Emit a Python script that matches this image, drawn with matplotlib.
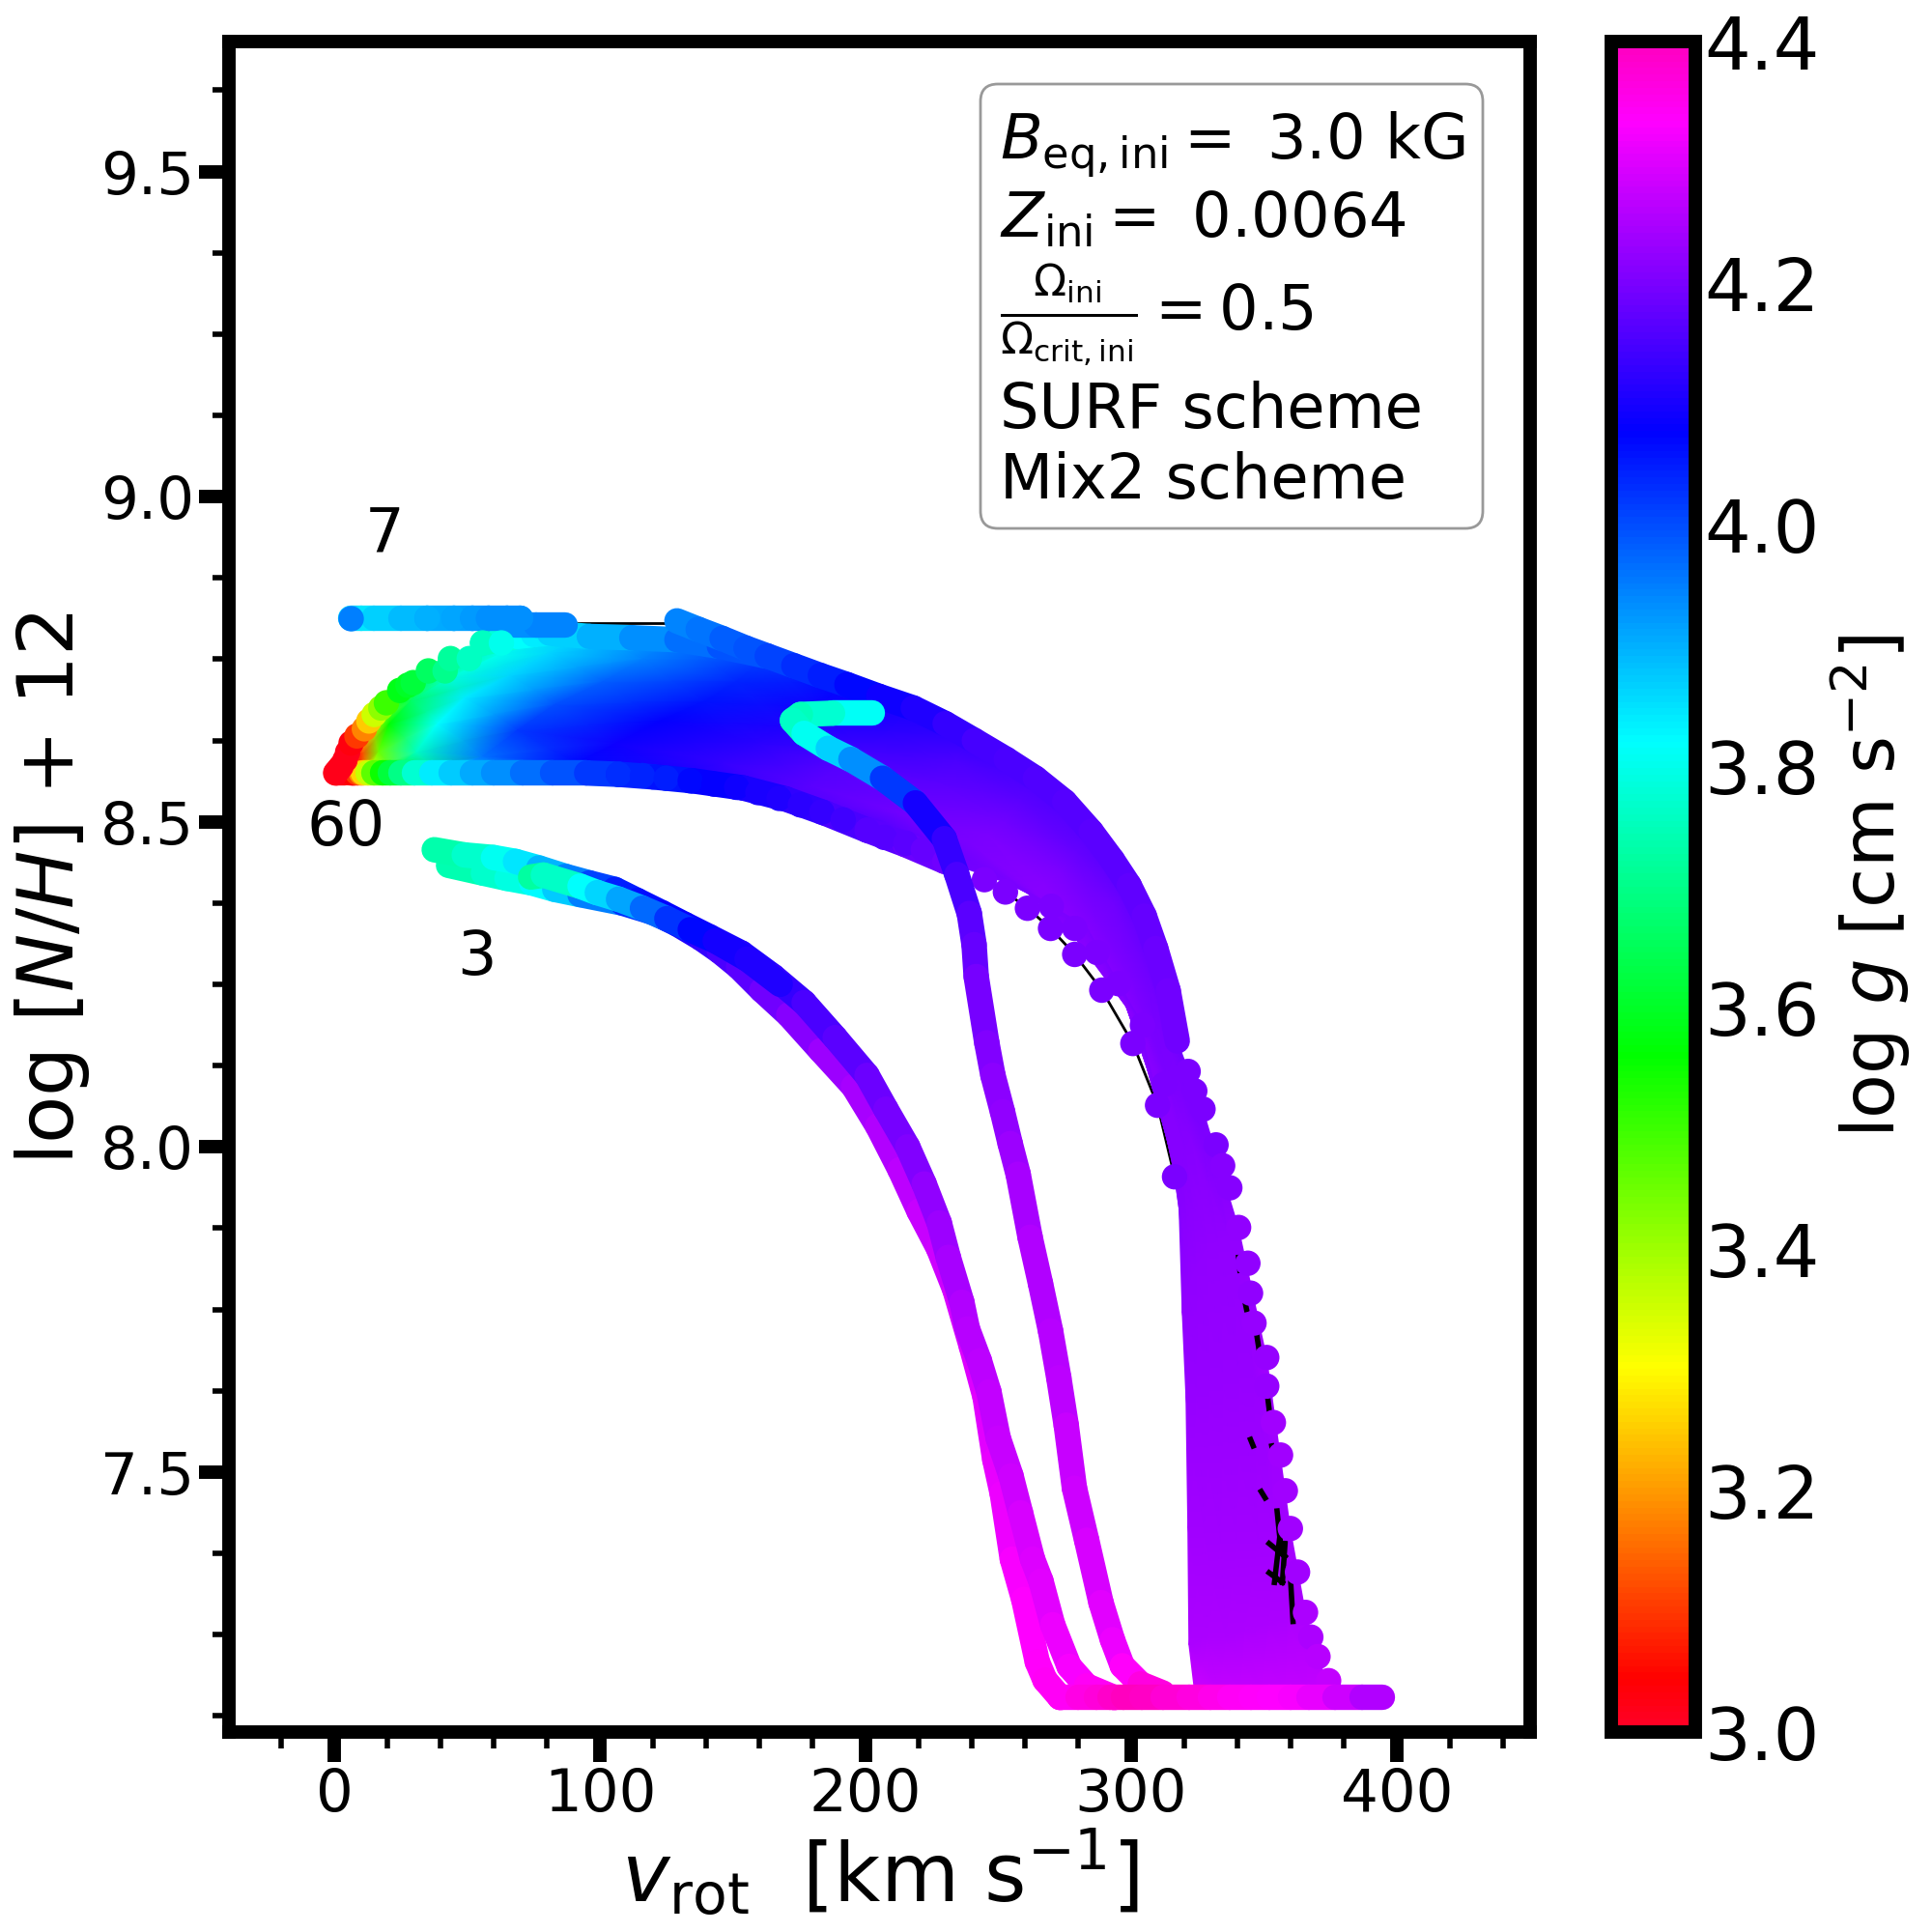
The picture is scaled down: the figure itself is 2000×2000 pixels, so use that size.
import numpy as np
import matplotlib
matplotlib.use("Agg")
import matplotlib.pyplot as plt
from matplotlib.collections import LineCollection
from matplotlib.colors import Normalize
from matplotlib.cm import ScalarMappable
from matplotlib.patches import FancyBboxPatch
from matplotlib.ticker import MultipleLocator

# Fan of the 7-60 Msun tracks, one row per track, columns run along the track
FAN_V = [
    [55.8, 68.9, 81, 96, 129, 162.5, 192.6, 217.8, 241, 264, 285, 299.3, 309.3, 317.4, 327.1, 340.5, 351.1, 360, 365.7, 374.4],
    [34.7, 48.8, 60.9, 81, 116.2, 151.4, 181.6, 208.7, 233.9, 258, 279.2, 293.2, 305.3, 315.9, 325.4, 336.5, 345.6, 353.6, 358.6, 365.7],
    [24.6, 30.7, 42.8, 65.9, 101.1, 139.3, 171.5, 199.7, 227.9, 252, 273.1, 287.2, 300.3, 313.4, 322.4, 332.5, 340.5, 347.6, 351.6, 357.6],
    [15.1, 19.6, 28.7, 48.8, 83, 123.2, 159.5, 189.6, 219.8, 246, 267.1, 282.2, 296.3, 312.4, 320.4, 328.5, 334.5, 339.5, 342.5, 348.6],
    [9.6, 13.6, 20.6, 38.7, 68.9, 106.1, 146.4, 179.6, 211.8, 239.9, 263.1, 280.2, 298.3, 312.4, 319.4, 324.4, 329.5, 333.5, 335.5, 340.5],
    [4.5, 10.6, 16.6, 30.7, 55.8, 91, 131.3, 166.5, 206.7, 234.9, 261.1, 282.2, 300.3, 313.4, 318.4, 321.4, 324.4, 327.5, 328.5, 332.5],
    [0.5, 8.5, 12.6, 20.6, 36.7, 70.9, 107.1, 154.4, 200.7, 229.9, 259, 283.2, 302.3, 315.4, 318.1, 319.3, 320.7, 321.4, 321.8, 324],
]
FAN_N = [
    [8.775, 8.785, 8.79, 8.785, 8.78, 8.755, 8.712, 8.675, 8.625, 8.567, 8.485, 8.402, 8.305, 8.163, 8.057, 7.875, 7.675, 7.412, 7.283, 7.165],
    [8.732, 8.745, 8.755, 8.76, 8.75, 8.715, 8.675, 8.64, 8.595, 8.535, 8.455, 8.375, 8.275, 8.135, 8.035, 7.865, 7.665, 7.405, 7.275, 7.165],
    [8.702, 8.71, 8.72, 8.725, 8.715, 8.685, 8.645, 8.61, 8.56, 8.5, 8.425, 8.345, 8.255, 8.105, 8.015, 7.855, 7.655, 7.395, 7.265, 7.165],
    [8.665, 8.677, 8.685, 8.69, 8.68, 8.655, 8.62, 8.585, 8.535, 8.48, 8.405, 8.325, 8.235, 8.085, 7.995, 7.845, 7.645, 7.395, 7.255, 7.165],
    [8.635, 8.645, 8.65, 8.65, 8.64, 8.62, 8.59, 8.555, 8.515, 8.465, 8.395, 8.315, 8.215, 8.045, 7.965, 7.815, 7.635, 7.395, 7.245, 7.165],
    [8.6, 8.605, 8.607, 8.607, 8.6, 8.59, 8.575, 8.54, 8.5, 8.455, 8.39, 8.315, 8.205, 8.015, 7.935, 7.785, 7.625, 7.405, 7.245, 7.165],
    [8.576, 8.575, 8.575, 8.575, 8.575, 8.575, 8.573, 8.552, 8.487, 8.439, 8.398, 8.338, 8.202, 7.982, 7.905, 7.745, 7.615, 7.415, 7.235, 7.16],
]
FAN_G = [
    [3.74, 3.8, 3.85, 3.88, 3.95, 4.01, 4.07, 4.1, 4.13, 4.15, 4.16, 4.17, 4.18, 4.19, 4.2, 4.22, 4.24, 4.24, 4.25, 4.27],
    [3.68, 3.74, 3.8, 3.86, 3.95, 4.04, 4.09, 4.12, 4.15, 4.17, 4.18, 4.19, 4.19, 4.2, 4.2, 4.22, 4.23, 4.24, 4.25, 4.27],
    [3.6, 3.65, 3.78, 3.86, 3.98, 4.06, 4.11, 4.14, 4.17, 4.19, 4.2, 4.2, 4.2, 4.2, 4.21, 4.22, 4.23, 4.24, 4.25, 4.27],
    [3.33, 3.5, 3.66, 3.84, 4.0, 4.08, 4.12, 4.16, 4.18, 4.2, 4.21, 4.21, 4.21, 4.21, 4.21, 4.22, 4.23, 4.24, 4.25, 4.27],
    [3.2, 3.32, 3.56, 3.82, 4.02, 4.09, 4.13, 4.17, 4.19, 4.2, 4.21, 4.21, 4.21, 4.21, 4.21, 4.22, 4.23, 4.24, 4.25, 4.27],
    [3.03, 3.12, 3.45, 3.76, 3.96, 4.07, 4.1, 4.15, 4.17, 4.19, 4.2, 4.21, 4.21, 4.21, 4.21, 4.22, 4.23, 4.24, 4.25, 4.27],
    [3.02, 3.05, 3.3, 3.55, 3.82, 3.95, 4.03, 4.09, 4.16, 4.19, 4.2, 4.2, 4.2, 4.21, 4.21, 4.22, 4.23, 4.24, 4.25, 4.28],
]

# Upper and lower rims of the fan
RIM_UP_V = [55.8, 62, 68.9, 75, 81, 96, 112, 129, 145, 162.5]
RIM_UP_N = [8.775, 8.78, 8.785, 8.788, 8.79, 8.785, 8.783, 8.78, 8.77, 8.755]
RIM_UP_G = [3.74, 3.77, 3.8, 3.83, 3.85, 3.88, 3.92, 3.95, 3.98, 4.01]
RIM_LOW_V = [0.5, 4, 7, 8.5, 10, 11, 12.6, 15, 18, 21, 25, 30, 36.7, 44, 52, 60, 71, 82, 95, 107, 120, 135, 154, 170, 185, 200.7, 215, 229.9]
RIM_LOW_N = [8.576, 8.576, 8.575, 8.575, 8.575, 8.575, 8.575, 8.575, 8.575, 8.575, 8.575, 8.575, 8.575, 8.575, 8.575, 8.575, 8.575, 8.575, 8.575, 8.573, 8.569, 8.563, 8.552, 8.535, 8.513, 8.487, 8.465, 8.439]
RIM_LOW_G = [3.02, 3.02, 3.03, 3.06, 3.15, 3.22, 3.3, 3.42, 3.52, 3.58, 3.66, 3.73, 3.82, 3.86, 3.89, 3.92, 3.95, 3.98, 4.01, 4.03, 4.05, 4.07, 4.09, 4.11, 4.14, 4.16, 4.18, 4.19]

# Track that leaves the fan at the top right
TOP_V = [129, 137, 146, 155, 163, 173, 183, 193, 205, 218, 230, 241, 253, 264, 275, 285, 293, 299.3, 305, 309.3, 314, 317.4]
TOP_N = [8.809, 8.796, 8.782, 8.767, 8.755, 8.74, 8.725, 8.711, 8.693, 8.675, 8.651, 8.625, 8.596, 8.567, 8.531, 8.485, 8.441, 8.402, 8.355, 8.305, 8.24, 8.163]
TOP_G = [3.94, 3.95, 3.97, 3.99, 4.0, 4.02, 4.04, 4.06, 4.08, 4.1, 4.12, 4.14, 4.15, 4.15, 4.16, 4.16, 4.17, 4.17, 4.18, 4.18, 4.19, 4.19]

# 7 Msun flat part and its short neighbour
FLAT_V = [6.3, 10, 15, 25, 35, 45, 52, 58, 65, 70]
FLAT_N = [8.813, 8.813, 8.813, 8.813, 8.813, 8.813, 8.813, 8.813, 8.813, 8.813]
FLAT_G = [3.88, 3.84, 3.85, 3.88, 3.9, 3.91, 3.92, 3.93, 3.93, 3.93]
FLAT2_V = [68, 76, 87]
FLAT2_N = [8.803, 8.803, 8.803]
FLAT2_G = [3.92, 3.94, 3.95]

# Ends of the fan tracks
END_V = [0.5, 1.5, 2.5, 4, 5, 6.3, 8.5, 11.3, 13, 15, 17.5, 19.6, 24.6, 27.7, 29.7, 35.4, 41.7, 43.7, 50.8, 55.8, 62.9]
END_N = [8.575, 8.58, 8.585, 8.595, 8.607, 8.621, 8.632, 8.643, 8.655, 8.665, 8.675, 8.683, 8.702, 8.71, 8.714, 8.732, 8.732, 8.751, 8.751, 8.775, 8.775]
END_G = [3.02, 3.02, 3.02, 3.02, 3.02, 3.03, 3.1, 3.18, 3.25, 3.35, 3.42, 3.5, 3.58, 3.6, 3.62, 3.66, 3.7, 3.72, 3.76, 3.76, 3.8]

# Circles along the lower edge of the fan
LOW_V = [107, 116, 125, 134, 143, 151.5, 159.5, 167.5, 175.5, 183.6, 191.6, 200.7, 207.1, 215.2, 221.8, 229.9]
LOW_N = [8.573, 8.571, 8.567, 8.563, 8.558, 8.553, 8.545, 8.536, 8.526, 8.515, 8.503, 8.487, 8.476, 8.467, 8.457, 8.439]
LOW_G = [4.03, 4.04, 4.05, 4.07, 4.08, 4.09, 4.1, 4.11, 4.12, 4.13, 4.14, 4.16, 4.16, 4.17, 4.18, 4.19]

# Sparse parts of the two tracks that show their black line
SPARSE_A_V = [244.8, 252.7, 261, 269.7, 278.8, 289, 300.7, 310, 316.4]
SPARSE_A_N = [8.411, 8.392, 8.367, 8.336, 8.296, 8.241, 8.159, 8.064, 7.954]
SPARSE_B_V = [270, 278.8, 287.2, 295.3, 304.3, 312.4]
SPARSE_B_N = [8.37, 8.336, 8.299, 8.251, 8.187, 8.096]
SPARSE_G = 4.2

# Circles on the right edge of the bundle
EDGE_V = [321.5, 324, 327.1, 332, 334.5, 337.2, 340.5, 344, 345, 346.3, 351.1, 351.1, 353.6, 356.3, 358.1, 360, 362.7, 365.7, 367.7, 370.4, 374.4]
EDGE_N = [8.116, 8.086, 8.058, 8.003, 7.971, 7.937, 7.876, 7.821, 7.775, 7.729, 7.676, 7.632, 7.576, 7.526, 7.471, 7.413, 7.346, 7.284, 7.246, 7.216, 7.179]
EDGE_G = [4.2, 4.2, 4.2, 4.2, 4.21, 4.21, 4.22, 4.22, 4.22, 4.23, 4.23, 4.23, 4.24, 4.24, 4.24, 4.24, 4.24, 4.25, 4.25, 4.26, 4.27]

# Bits of black line showing between those circles, nan breaks the line
BITS_V = [340.5, 341, np.nan, 342.5, 343.5, np.nan, 347, 348.5, np.nan, 351, 352.5, np.nan, 345, 346, np.nan, 353, 354, np.nan,
          349, 350.5, np.nan, 355, 356.5, np.nan, 352, 358, np.nan, 354, 356, np.nan, 357, 358, np.nan, 360, 361, np.nan, 352, 357]
BITS_N = [7.83, 7.81, np.nan, 7.77, 7.75, np.nan, 7.72, 7.68, np.nan, 7.63, 7.58, np.nan, 7.55, 7.54, np.nan, 7.54, 7.52, np.nan,
          7.47, 7.46, np.nan, 7.44, 7.38, np.nan, 7.39, 7.37, np.nan, 7.33, 7.40, np.nan, 7.33, 7.39, np.nan, 7.34, 7.27, np.nan, 7.345, 7.33]

# Middle band with the hook
MID_V = [202.7, 187.6, 175.5, 172.5, 176.9, 186, 194.5, 206.4, 218.8, 229.7, 234.4, 239.1, 240.9, 241.7, 245.7, 248, 251.6, 254.5, 257.5, 262, 265.9, 269.7, 272.8, 275.6, 278.7, 283.3, 288.7, 293, 296.7, 303.5, 312]
MID_N = [8.667, 8.667, 8.665, 8.656, 8.636, 8.613, 8.596, 8.567, 8.529, 8.474, 8.419, 8.359, 8.311, 8.262, 8.16, 8.11, 8.054, 8.005, 7.958, 7.861, 7.79, 7.717, 7.645, 7.572, 7.475, 7.395, 7.299, 7.242, 7.202, 7.174, 7.16]
MID_G = [3.82, 3.8, 3.75, 3.75, 3.78, 3.83, 3.9, 3.97, 4.07, 4.12, 4.14, 4.16, 4.17, 4.19, 4.2, 4.21, 4.22, 4.23, 4.24, 4.25, 4.255, 4.26, 4.265, 4.27, 4.28, 4.29, 4.3, 4.31, 4.32, 4.35, 4.38]

# Low mass tracks
UP_V = [37.6, 48.9, 59.9, 68.2, 77, 87, 96, 105.6, 114, 123.4, 132, 141.3, 153.3, 165.3, 176.9, 188.6, 200.6, 207.7, 215.9, 222.1, 227.8, 231.2, 236.3, 238.4, 242.9, 246.5, 250, 254.8, 258.4, 262.9, 266.1, 270.5, 276.7, 283.2, 293.7]
UP_N = [8.457, 8.449, 8.445, 8.439, 8.429, 8.416, 8.406, 8.396, 8.379, 8.36, 8.342, 8.323, 8.298, 8.262, 8.222, 8.168, 8.11, 8.058, 8.0, 7.943, 7.883, 7.83, 7.761, 7.72, 7.671, 7.623, 7.552, 7.494, 7.437, 7.366, 7.332, 7.265, 7.201, 7.171, 7.153]
UP_G = [3.72, 3.75, 3.79, 3.82, 3.87, 3.92, 3.98, 4.04, 4.06, 4.07, 4.08, 4.09, 4.1, 4.12, 4.14, 4.16, 4.18, 4.19, 4.2, 4.21, 4.23, 4.24, 4.25, 4.26, 4.26, 4.27, 4.27, 4.28, 4.29, 4.3, 4.3, 4.31, 4.32, 4.33, 4.35]

LOWER_V = [43, 56.1, 65, 74.3, 83, 92.5, 108.5, 120.5, 129, 138, 145, 152.2, 161, 171.1, 183.2, 195.5, 204.6, 213, 220.2, 227.5, 233.7, 239.9, 245, 248.7, 251.5, 255.3, 259.6, 264.7, 267.6, 273.3]
LOWER_N = [8.433, 8.421, 8.413, 8.406, 8.396, 8.388, 8.375, 8.36, 8.343, 8.321, 8.301, 8.277, 8.241, 8.203, 8.148, 8.093, 8.032, 7.965, 7.901, 7.844, 7.78, 7.693, 7.616, 7.519, 7.467, 7.366, 7.304, 7.208, 7.18, 7.153]
LOWER_G = [3.72, 3.76, 3.78, 3.8, 3.85, 3.9, 4.0, 4.06, 4.09, 4.12, 4.14, 4.16, 4.18, 4.2, 4.225, 4.24, 4.25, 4.26, 4.27, 4.28, 4.29, 4.3, 4.3, 4.31, 4.31, 4.32, 4.33, 4.33, 4.34, 4.34]

SHORT_V = [73.9, 78.7, 92.5, 99, 107, 116, 125.2, 134, 143.4, 155.4, 167.9]
SHORT_N = [8.415, 8.418, 8.401, 8.391, 8.381, 8.367, 8.351, 8.334, 8.317, 8.289, 8.25]
SHORT_G = [3.72, 3.73, 3.8, 3.84, 3.88, 3.94, 4.0, 4.05, 4.09, 4.1, 4.12]

# Common end of all tracks on the floor of the plot
FLOOR_V = [273, 280, 287, 292, 297, 304, 312, 322, 330, 337, 345, 352, 360, 367, 377, 387, 394.6]
FLOOR_N = [7.153] * 17
FLOOR_G = [4.34, 4.35, 4.365, 4.38, 4.39, 4.4, 4.385, 4.37, 4.36, 4.35, 4.34, 4.335, 4.33, 4.32, 4.3, 4.27, 4.24]

CBAR_TICKS = [3.0, 3.2, 3.4, 3.6, 3.8, 4.0, 4.2, 4.4]
MASS_LABELS = ["7", "60", "3"]
MASS_V = [19, 4.5, 53.5]
MASS_N = [8.94, 8.49, 8.292]

MARKER_SIZE = 90
BAND_WIDTH = np.sqrt(MARKER_SIZE)
PX = 2000.0

cmap = plt.get_cmap("gist_rainbow")
norm = Normalize(3.0, 4.4)


def draw_band(ax, v, n, g, zorder):
    # thick line coloured by log g, looks like a row of touching circles
    v, n, g = np.array(v, float), np.array(n, float), np.array(g, float)
    pts = np.column_stack([v, n])
    segs = np.stack([pts[:-1], pts[1:]], axis=1)
    lc = LineCollection(segs, cmap=cmap, norm=norm, linewidths=BAND_WIDTH, capstyle="round", zorder=zorder)
    lc.set_array((g[:-1] + g[1:]) / 2)
    ax.add_collection(lc)


def circles(ax, v, n, g, zorder):
    ax.scatter(v, n, c=g, s=MARKER_SIZE, cmap=cmap, norm=norm, linewidths=0, zorder=zorder)


def fig_text(fig, x, y, s, **kw):
    # x, y in pixels of the final picture, y going down
    fig.text(x / PX, 1 - y / PX, s, **kw)


fig = plt.figure(figsize=(10, 10), dpi=200)
ax = fig.add_axes([237 / PX, 1 - 1793 / PX, 1347 / PX, 1750 / PX])
cax = fig.add_axes([1668 / PX, 1 - 1793 / PX, 87 / PX, 1750 / PX])

# black lines below everything
ax.plot([82, 129], [8.806, 8.806], color="k", lw=1, zorder=1)
ax.plot(SPARSE_A_V, SPARSE_A_N, color="k", lw=1, zorder=1)
ax.plot(SPARSE_B_V, SPARSE_B_N, color="k", lw=1, zorder=1)

fan_v, fan_n, fan_g = np.array(FAN_V, float), np.array(FAN_N, float), np.array(FAN_G, float)
ax.pcolormesh(fan_v, fan_n, fan_g, shading="gouraud", cmap=cmap, norm=norm, zorder=2, rasterized=True)
ax.plot(BITS_V, BITS_N, color="k", lw=2, zorder=2.5)

# rims of the fan
draw_band(ax, RIM_UP_V, RIM_UP_N, RIM_UP_G, 3)
draw_band(ax, RIM_LOW_V, RIM_LOW_N, RIM_LOW_G, 3)
circles(ax, LOW_V, LOW_N, LOW_G, 3)
draw_band(ax, TOP_V, TOP_N, TOP_G, 3)
circles(ax, EDGE_V, EDGE_N, EDGE_G, 3)
circles(ax, SPARSE_A_V, SPARSE_A_N, [SPARSE_G] * len(SPARSE_A_V), 3)
circles(ax, SPARSE_B_V, SPARSE_B_N, [SPARSE_G] * len(SPARSE_B_V), 3)

draw_band(ax, LOWER_V, LOWER_N, LOWER_G, 5)
draw_band(ax, UP_V, UP_N, UP_G, 5)
draw_band(ax, SHORT_V, SHORT_N, SHORT_G, 5)
draw_band(ax, MID_V, MID_N, MID_G, 5)
draw_band(ax, FLOOR_V, FLOOR_N, FLOOR_G, 6)

draw_band(ax, FLAT2_V, FLAT2_N, FLAT2_G, 6)
draw_band(ax, FLAT_V, FLAT_N, FLAT_G, 6)
circles(ax, FLAT_V[4:], FLAT_N[4:], FLAT_G[4:], 6)
circles(ax, [6.3], [8.813], [3.95], 7)
circles(ax, END_V, END_N, END_G, 6)

for label, v, n in zip(MASS_LABELS, MASS_V, MASS_N):
    ax.text(v, n, label, fontsize=23, ha="center", va="center", color="k")

ax.set_xlim(-39.7, 450.3)
ax.set_ylim(7.1, 9.7)
ax.xaxis.set_major_locator(MultipleLocator(100))
ax.xaxis.set_minor_locator(MultipleLocator(20))
ax.yaxis.set_major_locator(MultipleLocator(0.5))
ax.yaxis.set_minor_locator(MultipleLocator(0.125))
ax.tick_params(which="major", length=11, width=5, labelsize=22, pad=2)
ax.tick_params(which="minor", length=6, width=2)
for spine in ax.spines.values():
    spine.set_linewidth(5)

cb = fig.colorbar(ScalarMappable(norm=norm, cmap=cmap), cax=cax, ticks=CBAR_TICKS)
cb.outline.set_linewidth(5)
cb.ax.tick_params(length=0, labelsize=27, pad=3.2)
cb.ax.minorticks_off()

fig_text(fig, 911, 1969, r"$v_{\rm rot}$  [km s$^{-1}$]", fontsize=30, ha="center", va="baseline")
fig_text(fig, 54, 920, r"log [$N/H$] + 12", fontsize=29, rotation=90, ha="center", va="center")
fig_text(fig, 1936, 918, r"log $g$ [cm s$^{-2}$]", fontsize=27, rotation=90, ha="center", va="center")

# note box, drawn in figure coordinates
box = FancyBboxPatch((1015 / PX, 1 - 547 / PX), 520 / PX, 460 / PX, boxstyle="round,pad=0,rounding_size=0.009",
                     transform=fig.transFigure, fc="white", ec="0.6", lw=1, zorder=8)
ax.add_patch(box)
note_lines = [
    (165, r"$B_{\rm eq,ini} =$ 3.0 kG"),
    (246, r"$Z_{\rm ini} =$ 0.0064"),
    (343, r"$\frac{\Omega_{\rm ini}}{\Omega_{\rm crit,ini}} = 0.5$"),
    (443, "SURF scheme"),
    (516, "Mix2 scheme"),
]
for y, line in note_lines:
    fig_text(fig, 1035, y, line, fontsize=23, ha="left", va="baseline", zorder=9)

fig.savefig("out.png", dpi=200)
